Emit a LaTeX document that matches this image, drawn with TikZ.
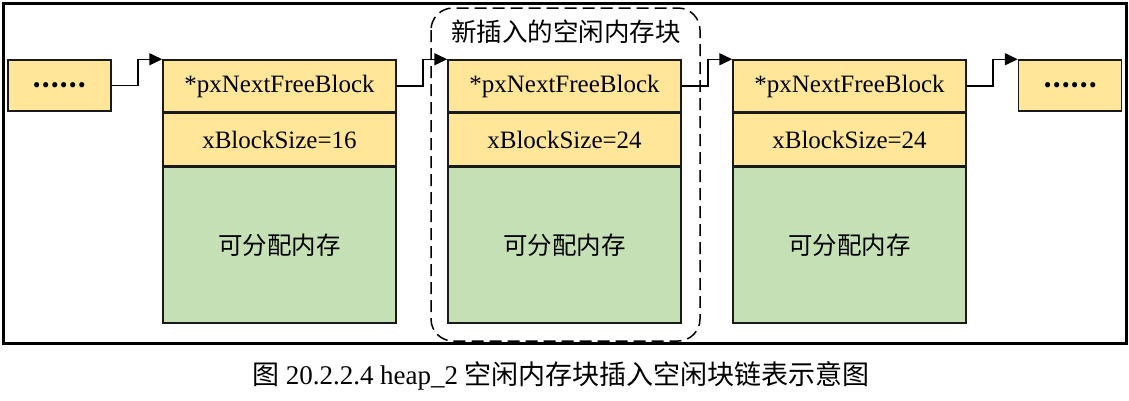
\documentclass[tikz,border=0pt]{standalone}
\usepackage{fontspec}
\setmainfont{Liberation Serif}
\newfontfamily\cjk{Noto Sans CJK SC}
\usepackage{tikz}
\usetikzlibrary{positioning, arrows.meta}
\usepackage{xcolor}
\definecolor{HeapYellow}{HTML}{FFE699}
\definecolor{HeapGreen}{HTML}{C5E0B4}
\definecolor{HeapLine}{HTML}{1A1A1A}

\begin{document}
\begin{tikzpicture}[x=1pt, y=-1pt,
    field/.style={draw=HeapLine, line width=1.5pt, fill=HeapYellow, inner sep=0pt,
                  minimum width=233pt, minimum height=52pt, font=\fontsize{25}{28}\selectfont},
    memfield/.style={field, fill=HeapGreen, minimum height=156pt},
    dots/.style={field, minimum width=103pt, minimum height=51pt, font=\cjk\bfseries\fontsize{24}{28}\selectfont},
    link/.style={draw=black, line width=1.5pt, -{Triangle[length=13pt, width=12pt]}},
    cntext/.style={font=\cjk\fontsize{24.5}{28}\selectfont}]
    \useasboundingbox (0,0) rectangle (1129,400);

    % Outer frame
    \draw[line width=3pt] (3,3) rectangle (1126,343);

    % Neighbours (not shown in full)
    \node[dots] (dotsL) at (59.5, 85.5) {……};
    \node[dots] (dotsR) at (1070, 85.5) {……};

    % Free blocks
    \node[field] (p1) at (279.5, 86) {*pxNextFreeBlock};
    \node[field, below=0pt of p1] (s1) {xBlockSize=16};
    \node[memfield, below=0pt of s1, cntext] (m1) {可分配内存};

    \node[field] (p2) at (564.5, 86) {*pxNextFreeBlock};
    \node[field, below=0pt of p2] (s2) {xBlockSize=24};
    \node[memfield, below=0pt of s2, cntext] (m2) {可分配内存};

    \node[field] (p3) at (849.5, 86) {*pxNextFreeBlock};
    \node[field, below=0pt of p3] (s3) {xBlockSize=24};
    \node[memfield, below=0pt of s3, cntext] (m3) {可分配内存};

    % Inserted block
    \draw[line width=1.5pt, dash pattern=on 12pt off 6pt, rounded corners=22pt] (431,8) rectangle (700,341);
    \node[cntext, font=\cjk\fontsize{25.5}{28}\selectfont] (newlbl) at (566, 32) {新插入的空闲内存块};

    % Links
    \draw[link] (dotsL.east) -- ++(26,0) |- (p1.north west);
    \draw[link] (p1.east) -- ++(26,0) |- (p2.north west);
    \draw[link] (p2.east) -- ++(26,0) |- (p3.north west);
    \draw[link] (p3.east) -- ++(26,0) |- (dotsR.north west);

    % Caption
    \node[font=\fontsize{27}{30}\selectfont] (cap) at (561, 376)
        {{\cjk 图} 20.2.2.4 heap\_2 {\cjk 空闲内存块插入空闲块链表示意图}};
\end{tikzpicture}
\end{document}
